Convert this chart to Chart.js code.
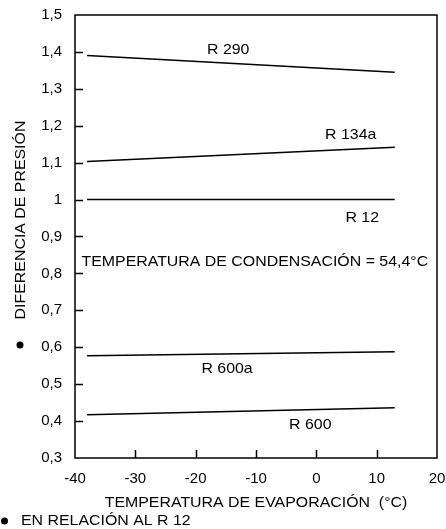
<!DOCTYPE html>
<html>
<head>
<meta charset="utf-8">
<script src="https://cdn.jsdelivr.net/npm/chart.js@4"></script>
<style>
  html, body { margin: 0; padding: 0; background: #fff; }
  #wrap { width: 446px; height: 529px; }
</style>
</head>
<body>
<div id="wrap"><canvas id="myChart" width="446" height="529"></canvas></div>
<script>
// temperatura de evaporacion (°C), start and end of every curve
const evapTemps = [-38, 13];

// diferencia de presion relative to R 12
const r290 = [1.39, 1.345];
const r134a = [1.103, 1.142];
const r12 = [1.0, 1.0];
const r600a = [0.577, 0.588];
const r600 = [0.417, 0.436];

const yTicks = [0.3, 0.4, 0.5, 0.6, 0.7, 0.8, 0.9, 1.0, 1.1, 1.2, 1.3, 1.4, 1.5];
const xTicks = [-40, -30, -20, -10, 0, 10, 20];

// text written inside the plot, in data units
const curveLabels = [
    { text: 'R 290', x: -14.6, y: 1.405 },
    { text: 'R 134a', x: 5.7, y: 1.175 },
    { text: 'R 12', x: 7.6, y: 0.95 },
    { text: 'TEMPERATURA DE CONDENSACIÓN = 54,4°C', x: -10.2, y: 0.831 },
    { text: 'R 600a', x: -14.8, y: 0.541 },
    { text: 'R 600', x: -1.0, y: 0.389 }
];

const FONT = '"Liberation Sans", Arial, Helvetica, sans-serif';
const STRETCH = 1.06; // the print is a little wider than Arial

function toPoints(ys) {
    return evapTemps.map((x, i) => ({ x: x, y: ys[i] }));
}

function lineSet(label, ys) {
    return {
        label: label,
        data: toPoints(ys),
        borderColor: '#000',
        borderWidth: 1.5,
        pointRadius: 0,
        fill: false,
        tension: 0
    };
}

function wideText(ctx, text, x, y, align, angle) {
    ctx.save();
    ctx.translate(x, y);
    if (angle) ctx.rotate(angle);
    ctx.scale(STRETCH, 1);
    ctx.textAlign = align;
    ctx.textBaseline = 'middle';
    ctx.fillText(text, 0, 0);
    ctx.restore();
}

// frame, inside ticks and free text
const decorations = {
    id: 'decorations',
    afterDatasetsDraw(chart) {
        const ctx = chart.ctx;
        const a = chart.chartArea;
        const xs = chart.scales.x;
        const ys = chart.scales.y;
        ctx.save();
        ctx.strokeStyle = '#000';
        ctx.lineWidth = 1.5;
        ctx.strokeRect(a.left, a.top, a.right - a.left, a.bottom - a.top);

        ctx.beginPath();
        yTicks.forEach(v => {
            if (v === 0.3 || v === 1.5) return;
            const py = Math.round(ys.getPixelForValue(v)) + 0.5;
            ctx.moveTo(a.left, py);
            ctx.lineTo(a.left + 8, py);
        });
        xTicks.forEach(v => {
            if (v === -40 || v === 20) return;
            const px = Math.round(xs.getPixelForValue(v)) + 0.5;
            ctx.moveTo(px, a.bottom);
            ctx.lineTo(px, a.bottom - 8);
        });
        ctx.stroke();

        ctx.fillStyle = '#000';
        ctx.font = '15px ' + FONT;
        curveLabels.forEach(l => {
            wideText(ctx, l.text, xs.getPixelForValue(l.x), ys.getPixelForValue(l.y), 'center');
        });

        // y title with bullet
        wideText(ctx, 'DIFERENCIA DE PRESIÓN', 21, 220, 'center', -Math.PI / 2);
        ctx.beginPath();
        ctx.arc(20, 345, 3.5, 0, Math.PI * 2);
        ctx.fill();

        // x title and footnote
        wideText(ctx, 'TEMPERATURA DE EVAPORACIÓN  (°C)', (a.left + a.right) / 2, 503, 'center');
        ctx.beginPath();
        ctx.arc(4.5, 521, 3.5, 0, Math.PI * 2);
        ctx.fill();
        wideText(ctx, 'EN RELACIÓN AL R 12', 21, 521, 'left');
        ctx.restore();
    }
};

const canvas = document.getElementById('myChart').getContext('2d');
const myChart = new Chart(canvas, {
    type: 'line',
    data: {
        datasets: [
            lineSet('R 290', r290),
            lineSet('R 134a', r134a),
            lineSet('R 12', r12),
            lineSet('R 600a', r600a),
            lineSet('R 600', r600)
        ]
    },
    options: {
        responsive: false,
        animation: false,
        layout: { padding: { top: 15, right: 9, left: 0, bottom: 0 } },
        plugins: {
            legend: { display: false },
            tooltip: { enabled: false }
        },
        scales: {
            x: {
                type: 'linear',
                min: -40,
                max: 20,
                afterBuildTicks: scale => { scale.ticks = xTicks.map(v => ({ value: v })); },
                afterFit: scale => {
                    scale.height = 71;
                    scale.paddingLeft = 0;
                    scale.paddingRight = 0;
                },
                grid: { display: false, drawTicks: false },
                border: { display: false },
                ticks: {
                    color: '#000',
                    font: { family: FONT, size: 15 },
                    padding: 12,
                    maxRotation: 0
                }
            },
            y: {
                min: 0.3,
                max: 1.5,
                afterBuildTicks: scale => { scale.ticks = yTicks.map(v => ({ value: v })); },
                afterFit: scale => {
                    scale.width = 75;
                    scale.paddingTop = 0;
                    scale.paddingBottom = 0;
                },
                grid: { display: false, drawTicks: false },
                border: { display: false },
                ticks: {
                    color: '#000',
                    font: { family: FONT, size: 15 },
                    padding: 13,
                    callback: v => String(Math.round(v * 10) / 10).replace('.', ',')
                }
            }
        }
    },
    plugins: [decorations]
});
</script>
</body>
</html>
